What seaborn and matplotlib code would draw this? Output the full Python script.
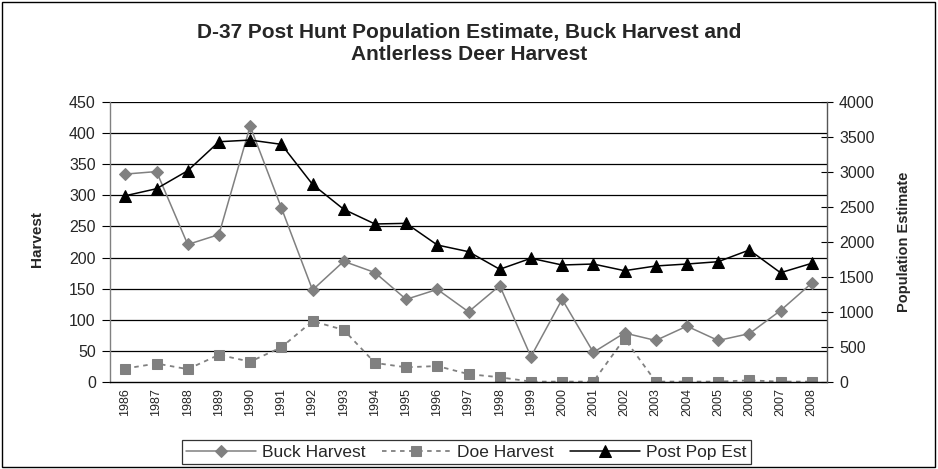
import matplotlib
matplotlib.use("Agg")
import matplotlib.pyplot as plt
from matplotlib.patches import Rectangle
from matplotlib.ticker import FixedLocator, NullFormatter
import seaborn as sns
import numpy as np

# data
years = [str(y) for y in range(1986, 2009)]
buck_harvest = [334, 338, 221, 237, 411, 280, 148, 194, 176, 133, 149, 113,
                155, 41, 133, 48, 79, 67, 90, 67, 78, 115, 159]
doe_harvest = [22, 30, 21, 44, 33, 56, 98, 84, 31, 24, 26, 13,
               8, 1, 1, 1, 70, 1, 1, 1, 3, 1, 1]
post_pop_est = [2660, 2760, 3017, 3430, 3454, 3393, 2822, 2466, 2257, 2266, 1957, 1862,
                1611, 1768, 1672, 1686, 1591, 1658, 1686, 1719, 1886, 1562, 1696]

sns.set_style("white")
plt.rcParams['font.family'] = ['Liberation Sans', 'DejaVu Sans']

pos = np.arange(len(years))

fig = plt.figure(figsize=(9.38, 4.69), dpi=100)
ax = fig.add_axes([0.117, 0.185, 0.765, 0.598])
ax2 = ax.twinx()

# horizontal gridlines (left axis) behind the data
for v in range(50, 451, 50):
    ax.axhline(v, color='black', lw=0.9, zorder=0)

sns.lineplot(x=pos, y=buck_harvest, ax=ax, color='#808080', lw=1.1,
             marker='D', markersize=6, markeredgecolor='#808080',
             label='Buck Harvest')
sns.lineplot(x=pos, y=doe_harvest, ax=ax, color='#808080', lw=1.3,
             linestyle=(0, (2.5, 2.5)), marker='s', markersize=6.5,
             markeredgecolor='#808080', label='Doe Harvest')
sns.lineplot(x=pos, y=post_pop_est, ax=ax2, color='black', lw=1.1,
             marker='^', markersize=8, markeredgecolor='black',
             label='Post Pop Est')

ax.set_xlim(-0.5, len(years) - 0.5)
ax.set_ylim(0, 450)
ax2.set_ylim(0, 4000)
ax.set_yticks(range(0, 451, 50))
ax2.set_yticks(range(0, 4001, 500))

ax.set_xticks(pos)
ax.set_xticklabels(years, rotation=90, fontsize=9)
ax.tick_params(axis='x', which='major', length=0, pad=4)
ax.xaxis.set_minor_locator(FixedLocator(np.arange(0.5, len(years) - 0.5, 1)))
ax.xaxis.set_minor_formatter(NullFormatter())
ax.tick_params(axis='x', which='minor', length=5, direction='out', color='black', width=0.8)
ax.tick_params(axis='y', length=6, direction='out', color='black', width=0.8,
               labelsize=11.5, pad=4)
ax2.tick_params(axis='y', length=9, direction='inout', color='black', width=0.8,
                labelsize=11.5, pad=4)

for a in (ax, ax2):
    a.spines['top'].set_visible(False)
ax.spines['right'].set_visible(False)
ax.spines['left'].set_color('#808080')
ax2.spines['left'].set_visible(False)
ax2.spines['right'].set_color('#555555')
ax2.spines['bottom'].set_visible(False)
ax.spines['bottom'].set_color('black')
for a in (ax, ax2):
    for s in a.spines.values():
        s.set_linewidth(1)

ax.set_ylabel('Harvest', fontsize=11, fontweight='bold')
ax.yaxis.set_label_coords(-0.092, 0.51)
ax2.set_ylabel('Population Estimate', fontsize=10.5, fontweight='bold')
ax2.yaxis.set_label_coords(1.097, 0.5)
ax.set_xlabel('')

fig.suptitle('D-37 Post Hunt Population Estimate, Buck Harvest and\nAntlerless Deer Harvest',
             fontsize=15, fontweight='bold', y=0.952, linespacing=1.24)

h1, l1 = ax.get_legend_handles_labels()
h2, l2 = ax2.get_legend_handles_labels()
if ax.get_legend():
    ax.get_legend().remove()
if ax2.get_legend():
    ax2.get_legend().remove()
leg = fig.legend(h1 + h2, l1 + l2, loc='center', bbox_to_anchor=(0.497, 0.036),
                 ncol=3, fontsize=12.5, frameon=True, fancybox=False,
                 edgecolor='black', handlelength=4.0, columnspacing=0.95,
                 handletextpad=0.35, borderpad=0.25, borderaxespad=0.3)
leg.get_frame().set_linewidth(0.9)

# outer chart border
fig.patches.append(Rectangle((0.002, 0.004), 0.995, 0.992, transform=fig.transFigure,
                             fill=False, edgecolor='black', lw=1))

fig.savefig('out.png', dpi=100, facecolor='white')
